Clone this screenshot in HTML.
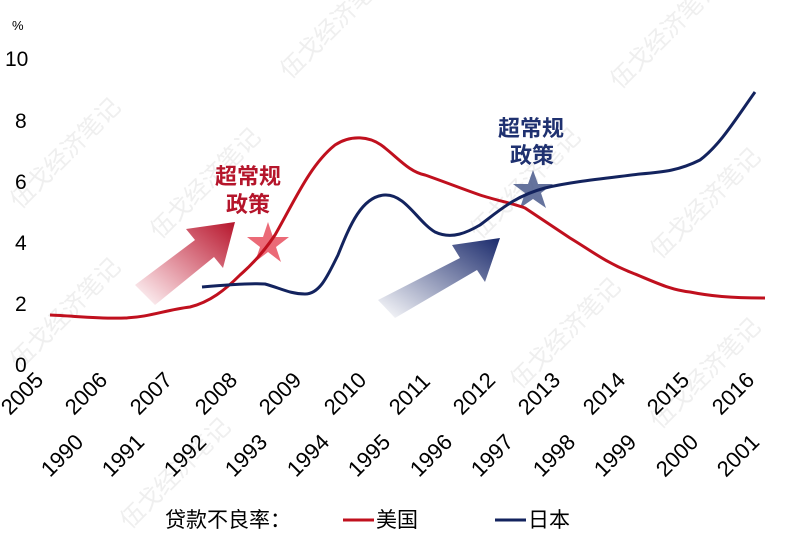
<!DOCTYPE html><html><head><meta charset="utf-8"><style>body{margin:0;background:#fff}svg{display:block}text{font-family:"Liberation Sans","Noto Sans CJK SC",sans-serif}</style></head><body>
<svg width="800" height="544" viewBox="0 0 800 544">
<defs>
<linearGradient id="gr" x1="0" y1="1" x2="1" y2="0"><stop offset="0" stop-color="#c8102e" stop-opacity="0"/><stop offset="1" stop-color="#b5152b"/></linearGradient>
<linearGradient id="gb" x1="0" y1="1" x2="1" y2="0"><stop offset="0" stop-color="#1a2a6c" stop-opacity="0"/><stop offset="1" stop-color="#1a2a6c"/></linearGradient>
</defs>
<g fill="#e4e4e4" font-size="24" opacity="0.6">
<text transform="translate(290,80) rotate(-45)">伍戈经济笔记</text>
<text transform="translate(620,90) rotate(-45)">伍戈经济笔记</text>
<text transform="translate(20,210) rotate(-45)">伍戈经济笔记</text>
<text transform="translate(160,240) rotate(-45)">伍戈经济笔记</text>
<text transform="translate(480,240) rotate(-45)">伍戈经济笔记</text>
<text transform="translate(660,260) rotate(-45)">伍戈经济笔记</text>
<text transform="translate(20,370) rotate(-45)">伍戈经济笔记</text>
<text transform="translate(520,390) rotate(-45)">伍戈经济笔记</text>
<text transform="translate(130,530) rotate(-45)">伍戈经济笔记</text>
<text transform="translate(660,430) rotate(-45)">伍戈经济笔记</text>
</g>
<g font-size="21" fill="#000">
<text x="12" y="30" font-size="13">%</text>
<text x="5" y="66">10</text><text x="15" y="128">8</text><text x="15" y="189">6</text><text x="15" y="250">4</text><text x="15" y="311">2</text><text x="15" y="372">0</text>
</g>
<polygon points="135,285 195,240 186,229 235,222 223,268 214,257 155,305" fill="url(#gr)"/>
<polygon points="378,300 460,258 452,245 500,238 485,282 477,270 395,318" fill="url(#gb)"/>
<polygon points="268,222 273,237 289,237 276,247 281,262 268,252 255,262 260,247 247,237 263,237" fill="#e8505f" opacity="0.85"/>
<polygon points="533,170 538,184 553,184 541,193 546,208 533,199 520,208 525,193 513,184 528,184" fill="#4a5a8c" opacity="0.85"/>
<path d="M50,315 C75,316 100,319 125,318 C150,317 165,310 190,307 C210,302 225,290 240,275 C255,262 265,250 275,235 C295,200 310,165 335,145 C350,135 370,135 385,148 C400,160 410,172 425,175 C445,182 460,188 480,195 C495,200 515,204 525,208 C540,218 555,228 570,238 C590,250 605,262 630,272 C655,282 670,290 690,292 C710,296 730,298 765,298" fill="none" stroke="#c0101e" stroke-width="3"/>
<path d="M202,287 C225,285 250,283 265,284 C280,288 290,294 305,294 C320,294 328,275 338,255 C350,225 362,196 385,195 C405,194 418,222 435,232 C452,240 468,232 480,225 C500,210 515,196 545,188 C570,182 600,179 640,174 C665,172 680,170 700,160 C720,145 735,120 755,92" fill="none" stroke="#13235e" stroke-width="3"/>
<g fill="#b5152b" font-size="22" font-weight="bold"><text x="215" y="184">超常规</text><text x="226" y="212">政策</text></g>
<g fill="#1f3170" font-size="22" font-weight="bold"><text x="498" y="136">超常规</text><text x="510" y="163">政策</text></g>
<g font-size="22" fill="#000">
<text transform="translate(10,416) rotate(-45)">2005</text>
<text transform="translate(74,416) rotate(-45)">2006</text>
<text transform="translate(139,416) rotate(-45)">2007</text>
<text transform="translate(204,416) rotate(-45)">2008</text>
<text transform="translate(268,416) rotate(-45)">2009</text>
<text transform="translate(333,416) rotate(-45)">2010</text>
<text transform="translate(398,416) rotate(-45)">2011</text>
<text transform="translate(462,416) rotate(-45)">2012</text>
<text transform="translate(527,416) rotate(-45)">2013</text>
<text transform="translate(592,416) rotate(-45)">2014</text>
<text transform="translate(656,416) rotate(-45)">2015</text>
<text transform="translate(721,416) rotate(-45)">2016</text>
<text transform="translate(50,478) rotate(-45)">1990</text>
<text transform="translate(111,478) rotate(-45)">1991</text>
<text transform="translate(173,478) rotate(-45)">1992</text>
<text transform="translate(234,478) rotate(-45)">1993</text>
<text transform="translate(296,478) rotate(-45)">1994</text>
<text transform="translate(357,478) rotate(-45)">1995</text>
<text transform="translate(419,478) rotate(-45)">1996</text>
<text transform="translate(480,478) rotate(-45)">1997</text>
<text transform="translate(542,478) rotate(-45)">1998</text>
<text transform="translate(603,478) rotate(-45)">1999</text>
<text transform="translate(665,478) rotate(-45)">2000</text>
<text transform="translate(726,478) rotate(-45)">2001</text>
</g>
<g font-size="21" fill="#000">
<text x="165" y="527">贷款不良率：</text>
<line x1="343" y1="520" x2="374" y2="520" stroke="#c0101e" stroke-width="3"/>
<text x="376" y="527">美国</text>
<line x1="495" y1="520" x2="526" y2="520" stroke="#13235e" stroke-width="3"/>
<text x="528" y="527">日本</text>
</g>
</svg>
</body></html>
